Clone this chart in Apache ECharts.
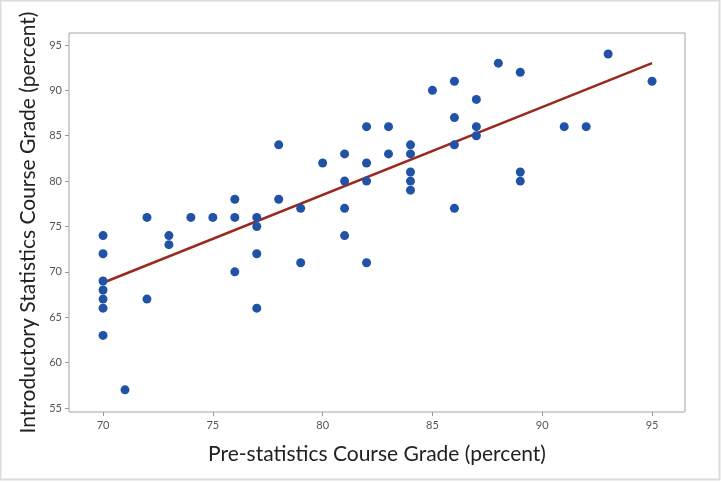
<!DOCTYPE html>
<html>
<head>
<meta charset="utf-8">
<script src="https://cdn.jsdelivr.net/npm/echarts@6/dist/echarts.min.js"></script>
<style>
html,body{margin:0;padding:0;background:#fff;}
#c{width:722px;height:482px;}
</style>
</head>
<body>
<div id="c"></div>
<script>
// Pre-statistics grade (x) and Introductory statistics grade (y)
var preGrades = [70,70,70,70,70,70,70,71,72,72,73,73,74,75,76,76,76,77,77,77,77,78,78,79,79,80,81,81,81,81,82,82,82,82,83,83,84,84,84,84,84,85,86,86,86,86,87,87,87,88,89,89,89,91,92,93,95];
var introGrades = [74,72,69,68,67,66,63,57,76,67,74,73,76,76,78,76,70,76,75,72,66,84,78,77,71,82,83,80,77,74,86,82,80,71,86,83,84,83,81,80,79,90,91,87,84,77,89,86,85,93,92,81,80,86,86,94,91];
// fitted regression line endpoints
var fitX = [70, 95];
var fitY = [68.8, 93.0];
var xTicks = [70,75,80,85,90,95];
var yTicks = [55,60,65,70,75,80,85,90,95];

var points = preGrades.map(function(x,i){return [x, introGrades[i]];});
var fitLine = fitX.map(function(x,i){return [x, fitY[i]];});

var chart = echarts.init(document.getElementById('c'));
var font = 'Lato, "Open Sans", sans-serif';
chart.setOption({
  animation:false,
  backgroundColor:'#fff',
  graphic:[{type:'rect', shape:{x:0.5,y:0.5,width:719,height:479}, style:{fill:'none', stroke:'#dcdcdc', lineWidth:2}, silent:true}],
  grid:{left:69, top:33, right:37, bottom:70, show:true, borderColor:'#a6a6a6', borderWidth:1, backgroundColor:'#fff'},
  xAxis:{
    type:'value', min:68.45, max:96.5,
    name:'Pre-statistics Course Grade (percent)', nameLocation:'middle', nameGap:32,
    nameTextStyle:{fontFamily:font, fontSize:21, color:'#222'},
    axisLine:{show:false},
    axisTick:{show:true, length:4, customValues:xTicks, lineStyle:{color:'#999'}},
    axisLabel:{customValues:xTicks, margin:8, fontFamily:font, fontSize:11, color:'#555'},
    splitLine:{show:false}
  },
  yAxis:{
    type:'value', min:54.56, max:96.32,
    name:'Introductory Statistics Course Grade (percent)', nameLocation:'middle', nameGap:28,
    nameTextStyle:{fontFamily:font, fontSize:21, color:'#222'},
    axisLine:{show:false},
    axisTick:{show:true, length:4, customValues:yTicks, lineStyle:{color:'#999'}},
    axisLabel:{customValues:yTicks, margin:7, fontFamily:font, fontSize:11, color:'#555'},
    splitLine:{show:false}
  },
  series:[
    {type:'line', data:fitLine, symbol:'none', lineStyle:{color:'#9a2a20', width:2.5}, z:2},
    {type:'scatter', data:points, symbol:'circle', symbolSize:9, itemStyle:{color:'#2053a5', opacity:1}, z:3}
  ]
});
</script>
</body>
</html>
